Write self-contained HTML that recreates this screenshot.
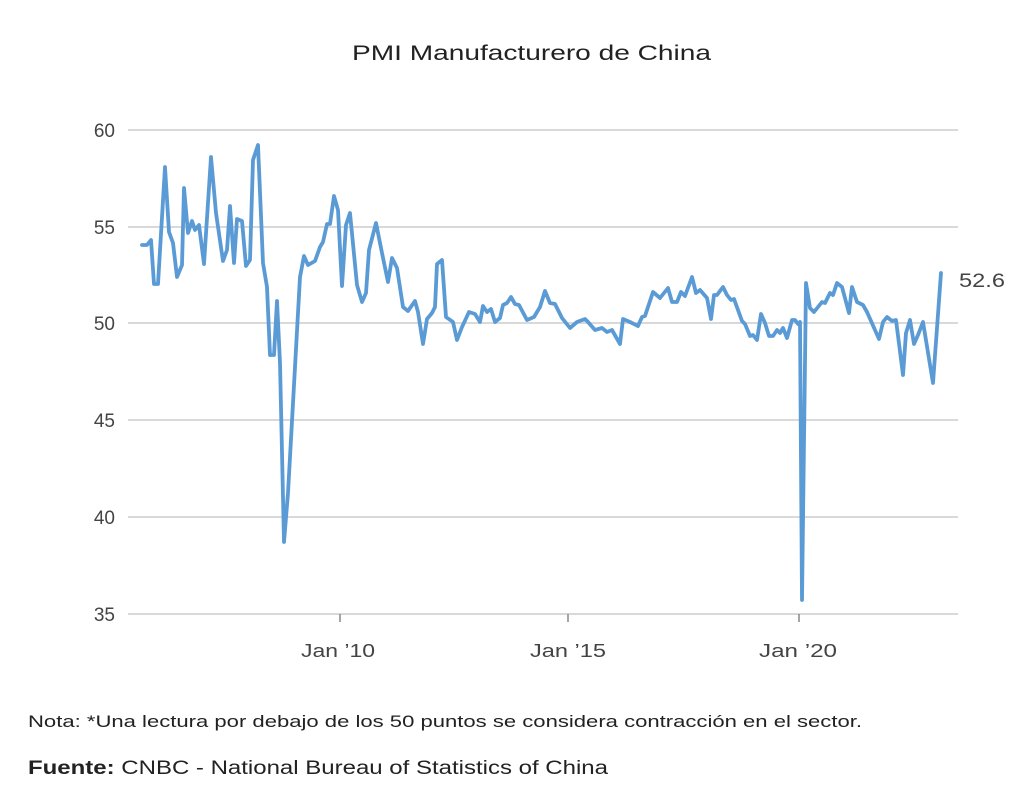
<!DOCTYPE html>
<html><head><meta charset="utf-8"><style>
body{margin:0;background:#fff;font-family:"Liberation Sans",sans-serif;}
</style></head><body>
<svg width="1024" height="793" viewBox="0 0 1024 793" xmlns="http://www.w3.org/2000/svg" font-family="Liberation Sans, sans-serif">
<text x="352" y="60" font-size="21" fill="#222" textLength="359" lengthAdjust="spacingAndGlyphs">PMI Manufacturero de China</text>
<g stroke="#d9d9d9" stroke-width="2">
<line x1="128" y1="130" x2="958" y2="130"/>
<line x1="128" y1="227" x2="958" y2="227"/>
<line x1="128" y1="323" x2="958" y2="323"/>
<line x1="128" y1="420" x2="958" y2="420"/>
<line x1="128" y1="517" x2="958" y2="517"/>
<line x1="128" y1="614" x2="958" y2="614"/>
</g>
<g stroke="#888" stroke-width="1.5">
<line x1="340" y1="614" x2="340" y2="622"/>
<line x1="568" y1="614" x2="568" y2="622"/>
<line x1="799" y1="614" x2="799" y2="622"/>
</g>
<g font-size="19" fill="#444" text-anchor="end">
<text x="115" y="137">60</text>
<text x="115" y="234">55</text>
<text x="115" y="330">50</text>
<text x="115" y="427">45</text>
<text x="115" y="524">40</text>
<text x="115" y="621">35</text>
</g>
<g font-size="18" fill="#444">
<text x="301" y="657" textLength="74" lengthAdjust="spacingAndGlyphs">Jan ’10</text>
<text x="530" y="657" textLength="76" lengthAdjust="spacingAndGlyphs">Jan ’15</text>
<text x="759" y="657" textLength="78" lengthAdjust="spacingAndGlyphs">Jan ’20</text>
</g>
<text x="959" y="287" font-size="19" fill="#444" textLength="46" lengthAdjust="spacingAndGlyphs">52.6</text>
<polyline fill="none" stroke="#5b9bd5" stroke-width="3.8" stroke-linejoin="round" stroke-linecap="round" points="142,245 147,245 151,240 154,284 158,284 165,167 169,232 173,243 177,277 182,265 184,188 188,233 192,221 195,230 199,225 204,264 211,157 216,213 223,261 227,250 230,206 234,263 237,219 242,221 246,266 250,260 253,160 258,145 263,263 267,287 270,355 274,355 277,301 280,363 284,542 288,493 300,277 304,256 308,265 315,261 320,247 323,242 327,224 330,224 334,196 338,210 342,286 346,225 350,213 357,285 362,302 366,293 369,250 376,223 382,253 388,282 392,258 397,268 403,307 408,311 415,301 418,312 423,344 427,319 432,313 435,307 437,264 442,260 446,317 453,322 457,340 462,327 469,312 475,314 480,322 483,306 487,312 491,309 495,322 500,318 503,305 507,303 511,297 515,304 519,305 527,320 534,317 540,307 545,291 550,303 555,304 562,318 570,328 577,322 585,319 588,322 595,330 602,328 607,332 612,330 620,344 623,319 630,322 638,326 642,317 645,316 653,292 660,298 668,288 672,302 677,302 681,292 685,296 692,277 696,293 700,290 707,298 711,319 714,295 717,295 723,287 727,295 731,300 734,299 742,321 745,324 750,336 753,335 757,340 761,314 765,323 769,336 773,336 777,330 780,333 783,328 787,338 792,320 795,320 798,324 800,322 802,600 806,283 810,308 814,312 822,302 825,303 830,293 833,295 837,283 842,287 849,313 852,287 857,302 863,305 867,312 875,330 879,339 883,322 887,317 892,321 896,320 903,375 906,333 910,320 914,344 918,335 923,322 933,383 941,273"/>
<text x="28" y="727" font-size="17" fill="#222" textLength="834" lengthAdjust="spacingAndGlyphs">Nota: *Una lectura por debajo de los 50 puntos se considera contracción en el sector.</text>
<text x="28" y="774" font-size="19" fill="#222" textLength="580" lengthAdjust="spacingAndGlyphs"><tspan font-weight="bold">Fuente:</tspan> CNBC - National Bureau of Statistics of China</text>
</svg>
</body></html>
